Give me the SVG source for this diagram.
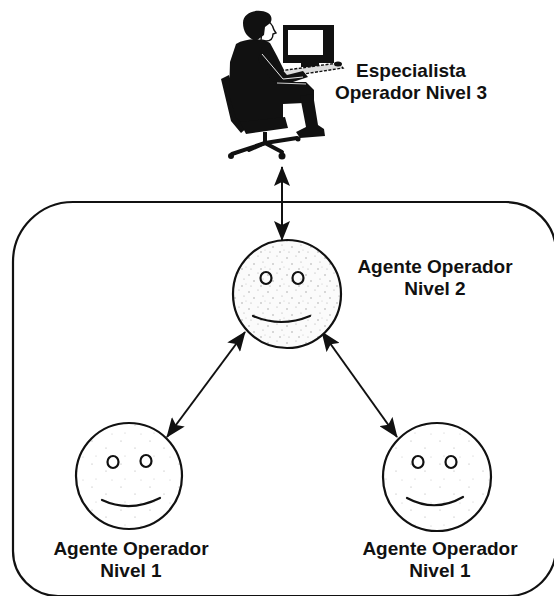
<svg xmlns="http://www.w3.org/2000/svg" width="554" height="596" viewBox="0 0 554 596">
  <style>
    .label { font-family: "Liberation Sans", Arial, sans-serif; font-weight: bold; font-size: 19px; fill: #111; text-anchor: middle; }
    .face { stroke: #111; stroke-width: 2.2; }
    .feature { fill: none; stroke: #111; stroke-width: 2.2; stroke-linecap: round; }
    .link { stroke: #111; stroke-width: 2; fill: none; }
    .ink { fill: #111; }
  </style>
  <defs>
    <marker id="head" viewBox="0 0 20 16" refX="19" refY="8" markerWidth="20" markerHeight="16" markerUnits="userSpaceOnUse" orient="auto-start-reverse">
      <path d="M0 0 L20 8 L0 16 L4 8 Z" fill="#111"/>
    </marker>
    <!-- light stipple fill for the faces -->
    <pattern id="stippleDense" width="19" height="17" patternUnits="userSpaceOnUse">
      <rect width="19" height="17" fill="#fbfbfb"/>
      <circle cx="2" cy="3" r="0.7" fill="#999"/>
      <circle cx="11" cy="1" r="0.6" fill="#aaa"/>
      <circle cx="7" cy="9" r="0.7" fill="#999"/>
      <circle cx="16" cy="7" r="0.6" fill="#aaa"/>
      <circle cx="4" cy="14" r="0.6" fill="#aaa"/>
      <circle cx="14" cy="14" r="0.7" fill="#999"/>
      <circle cx="18" cy="12" r="0.5" fill="#bbb"/>
    </pattern>
    <pattern id="stippleLight" width="29" height="23" patternUnits="userSpaceOnUse">
      <rect width="29" height="23" fill="#fff"/>
      <circle cx="5" cy="4" r="0.6" fill="#aaa"/>
      <circle cx="19" cy="11" r="0.6" fill="#aaa"/>
      <circle cx="9" cy="19" r="0.5" fill="#bbb"/>
      <circle cx="25" cy="20" r="0.5" fill="#bbb"/>
    </pattern>
  </defs>

  <!-- boundary around the agent group -->
  <g id="boundary">
    <path d="M73 202 H506 A50 50 0 0 1 556 252 V548 A48 48 0 0 1 508 596 H58 A45 45 0 0 1 13 551 V262 A60 60 0 0 1 73 202 Z" fill="none" stroke="#111" stroke-width="2.2"/>
  </g>

  <!-- connectors -->
  <g id="connectors">
    <line class="link" x1="282" y1="167" x2="282" y2="240" marker-start="url(#head)" marker-end="url(#head)"/>
    <line class="link" x1="245" y1="332" x2="167" y2="437" marker-start="url(#head)" marker-end="url(#head)"/>
    <line class="link" x1="322" y1="332" x2="397" y2="437" marker-start="url(#head)" marker-end="url(#head)"/>
  </g>

  <!-- level 3 specialist at a workstation -->
  <g id="specialist">
    <!-- monitor -->
    <rect x="283" y="25" width="51" height="38" class="ink"/>
    <rect x="288" y="30" width="35" height="25" fill="#fff"/>
    <rect x="301" y="62" width="18" height="5" class="ink"/>
    <!-- desk / keyboard -->
    <path d="M272 72 L338 63 L343 68 L277 78 Z" fill="#ddd" stroke="#111" stroke-width="1.4" stroke-dasharray="3 1.5"/>
    <ellipse cx="338" cy="64" rx="4" ry="2.5" class="ink"/>
    <!-- chair back -->
    <path d="M221 79 L229 75 L238 104 L249 126 L241 133 L231 121 Z" class="ink"/>
    <!-- torso and thigh -->
    <path d="M236 44 C246 38 262 38 270 43 L277 56 L284 70 L277 82 L306 82 L314 90 L314 101 L304 103 L283 104 L283 118 L272 125 L247 128 L236 118 L229 95 L230 62 Z" class="ink"/>
    <!-- arm -->
    <path d="M262 47 L287 75 L303 71 L308 77 L287 84 L272 81 L258 60 Z" class="ink"/>
    <path d="M262 54 L283 79 L303 77" fill="none" stroke="#fff" stroke-width="0.9"/>
    <path d="M277 83 L306 84" fill="none" stroke="#fff" stroke-width="0.8"/>
    <!-- lower leg and shoe -->
    <path d="M300 96 L313 94 L318 125 L324 129 L325 136 L300 138 L296 132 L306 127 Z" class="ink"/>
    <!-- face -->
    <path d="M263 20 C269 20 273 25 274 30 L276 33 L273 34 C273 38 271 41 266 41 L261 40 Z" fill="#fff" stroke="#111" stroke-width="1.4"/>
    <!-- hair -->
    <path d="M243 23 C243 12 258 8 268 13 C273 16 272 22 269 24 L265 27 L264 35 L256 41 C247 38 243 31 243 23 Z" class="ink"/>
    <!-- chair seat, post and star base -->
    <path d="M240 122 L285 117 L288 128 L246 134 Z" class="ink"/>
    <path d="M265 132 V143" stroke="#111" stroke-width="4"/>
    <g stroke="#111" stroke-width="4" stroke-linecap="round">
      <line x1="265" y1="143" x2="232" y2="154"/>
      <line x1="265" y1="143" x2="282" y2="152"/>
      <line x1="265" y1="143" x2="297" y2="138"/>
      <line x1="265" y1="143" x2="249" y2="150"/>
    </g>
    <circle cx="231" cy="156" r="3" class="ink"/>
    <circle cx="282" cy="156" r="3.5" class="ink"/>
    <circle cx="298" cy="139" r="2.5" class="ink"/>
    <text class="label" x="411" y="77">Especialista</text>
    <text class="label" x="411" y="99">Operador Nivel 3</text>
  </g>

  <!-- level 2 agent -->
  <g id="agent-level2">
    <circle class="face" cx="287" cy="294" r="54" fill="url(#stippleDense)"/>
    <ellipse class="feature" cx="266" cy="278" rx="5.5" ry="6"/>
    <ellipse class="feature" cx="298" cy="278" rx="5.5" ry="6"/>
    <path class="feature" d="M253 316 Q281 328 310 316"/>
    <text class="label" x="435" y="273">Agente Operador</text>
    <text class="label" x="435" y="295">Nivel 2</text>
  </g>

  <!-- level 1 agent, left -->
  <g id="agent-level1-left">
    <circle class="face" cx="129" cy="476" r="53" fill="url(#stippleLight)"/>
    <ellipse class="feature" cx="113" cy="462" rx="5.5" ry="6"/>
    <ellipse class="feature" cx="146" cy="461" rx="5.5" ry="6"/>
    <path class="feature" d="M102 500 Q130 513 160 498"/>
    <text class="label" x="131" y="555">Agente Operador</text>
    <text class="label" x="131" y="577">Nivel 1</text>
  </g>

  <!-- level 1 agent, right -->
  <g id="agent-level1-right">
    <circle class="face" cx="437" cy="477" r="54" fill="url(#stippleLight)"/>
    <ellipse class="feature" cx="418" cy="462" rx="5.5" ry="6"/>
    <ellipse class="feature" cx="451" cy="462" rx="5.5" ry="6"/>
    <path class="feature" d="M407 498 Q435 513 463 497"/>
    <text class="label" x="440" y="555">Agente Operador</text>
    <text class="label" x="440" y="577">Nivel 1</text>
  </g>
</svg>
